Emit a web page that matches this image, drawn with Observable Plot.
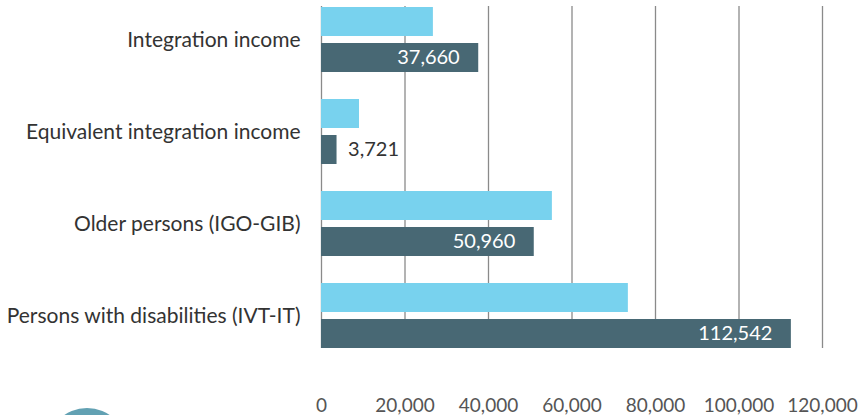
<!DOCTYPE html>
<html>
<head>
<meta charset="utf-8">
<script src="https://cdn.jsdelivr.net/npm/d3@7"></script>
<script src="https://cdn.jsdelivr.net/npm/@observablehq/plot@0.6"></script>
<style>
  html, body { margin: 0; padding: 0; background: #fff; overflow: hidden; }
  #wrap { position: relative; width: 865px; height: 415px; overflow: hidden; }
  #deco { position: absolute; left: 47px; top: 408px; width: 80px; height: 80px; border-radius: 50%; background: #62a1b3; }
</style>
</head>
<body>
<div id="wrap"><div id="chart"></div><div id="deco"></div></div>
<script>
const categories = [
  "Integration income",
  "Equivalent integration income",
  "Older persons (IGO-GIB)",
  "Persons with disabilities (IVT-IT)"
];
const lightValues = [26800, 9100, 55300, 73500];
const darkValues = [37660, 3721, 50960, 112542];
const xTicks = [0, 20000, 40000, 60000, 80000, 100000, 120000];

const light = categories.map((c, i) => ({category: c, value: lightValues[i]}));
const dark = categories.map((c, i) => ({category: c, value: darkValues[i]}));
const fmt = d3.format(",");
const FONT = "Lato, 'Open Sans', sans-serif";
const THRESH = 10000;

const chart = Plot.plot({
  width: 865,
  height: 415,
  marginLeft: 321,
  marginRight: 43,
  marginTop: 6,
  marginBottom: 67,
  style: {fontFamily: FONT, background: "#fff"},
  x: {domain: [0, 120000], axis: null, label: null},
  y: {domain: categories, paddingInner: 0.296, paddingOuter: 0, axis: null, label: null},
  marks: [
    Plot.ruleX(xTicks, {stroke: "#8a8a8a", strokeWidth: 1.3}),
    Plot.barX(light, {x: "value", y: "category", fill: "#78d2ee", insetBottom: 36}),
    Plot.barX(dark, {x: "value", y: "category", fill: "#486874", insetTop: 36}),
    Plot.text(dark.filter(d => d.value > THRESH), {
      x: "value", y: "category", dy: 18, dx: -19,
      text: d => fmt(d.value),
      textAnchor: "end",
      fill: "#ffffff",
      fontSize: 20
    }),
    Plot.text(dark.filter(d => d.value <= THRESH), {
      x: "value", y: "category", dy: 18, dx: 11,
      text: d => fmt(d.value),
      textAnchor: "start",
      fill: "#333333",
      fontSize: 20
    }),
    Plot.axisY({tickSize: 0, tickPadding: 21, fontSize: 21, color: "#333", anchor: "left", label: null}),
    Plot.axisX(xTicks, {anchor: "bottom", tickSize: 0, tickPadding: 50, fontSize: 19, color: "#555", label: null, tickFormat: d => fmt(d)})
  ]
});
document.getElementById("chart").appendChild(chart);
</script>
</body>
</html>
